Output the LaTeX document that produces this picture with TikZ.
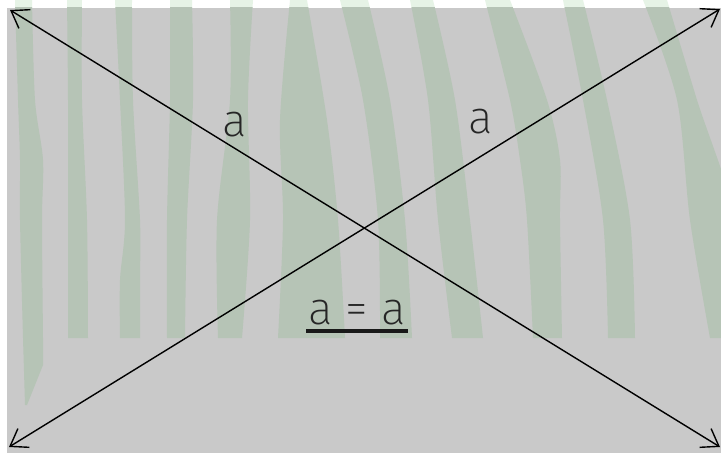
\documentclass[tikz,border=0pt]{standalone}
\usepackage{fontspec}
\setmainfont{Fira Sans}[UprightFont=* ExtraLight]
\usetikzlibrary{arrows.meta}
\definecolor{bggray}{HTML}{C9C9C9}
\definecolor{stripemid}{HTML}{B6C4B6}
\definecolor{stripepale}{HTML}{E6F3E6}
\newcommand\drawstripes[1]{%
  \fill[#1] plot[smooth] coordinates {(15,0)(18,100)(20,160)(20,220)(23,338)} -- (25,405) -- (27,405) -- (43,365) -- plot[smooth] coordinates {(43,338)(42,220)(43,160)(35,100)(32,0)} -- cycle;
  \fill[#1] plot[smooth] coordinates {(67,0)(68,100)(68,220)(68,338)} -- plot[smooth] coordinates {(88,338)(87,220)(82,100)(82,0)} -- cycle;
  \fill[#1] plot[smooth] coordinates {(115,0)(120,100)(125,220)(120,280)(120,338)} -- plot[smooth] coordinates {(140,338)(140,280)(140,220)(133,100)(132,0)} -- cycle;
  \fill[#1] plot[smooth] coordinates {(170,0)(170,100)(167,220)(167,338)} -- plot[smooth] coordinates {(185,338)(187,220)(193,100)(192,0)} -- cycle;
  \fill[#1] plot[smooth] coordinates {(230,0)(230,100)(217,220)(218,338)} -- plot[smooth] coordinates {(242,338)(250,220)(248,100)(253,0)} -- cycle;
  \fill[#1] plot[smooth] coordinates {(290,0)(280,120)(283,220)(278,338)} -- plot[smooth] coordinates {(345,338)(338,220)(327,120)(307,0)} -- cycle;
  \fill[#1] plot[smooth] coordinates {(340,0)(363,100)(378,220)(380,338)} -- plot[smooth] coordinates {(412,338)(405,220)(390,100)(368,0)} -- cycle;
  \fill[#1] plot[smooth] coordinates {(410,0)(428,100)(438,220)(452,338)} -- plot[smooth] coordinates {(483,338)(470,220)(455,100)(433,0)} -- cycle;
  \fill[#1] plot[smooth] coordinates {(485,0)(510,100)(520,160)(527,220)(533,338)} -- plot[smooth] coordinates {(562,338)(560,220)(560,160)(547,100)(510,0)} -- cycle;
  \fill[#1] plot[smooth] coordinates {(563,0)(583,100)(603,220)(608,338)} -- plot[smooth] coordinates {(635,338)(630,220)(607,100)(583,0)} -- cycle;
  \fill[#1] plot[smooth] coordinates {(643,0)(677,100)(690,220)(710,338)} -- plot[smooth] coordinates {(735,338)(735,220)(697,100)(667,0)} -- cycle;
}
\tikzset{
  dblarrow/.style={line width=1.4bp, black,
    {Straight Barb[length=16bp,width=22bp,line width=1.4bp]}-{Straight Barb[length=16bp,width=22bp,line width=1.4bp]}},
  lbl/.style={inner sep=0pt, anchor=base, text=black!85, font=\fontsize{46}{54}\selectfont},
  ulline/.style={line width=3.5bp, black!90}
}
\begin{document}
\begin{tikzpicture}[x=1bp,y=-1bp]
\useasboundingbox (0,0) rectangle (721,453);
\fill[white] (0,0) rectangle (721,453);
\begin{scope}
  \clip (0,0) rectangle (721,8);
  \drawstripes{stripepale}
\end{scope}
\fill[bggray] (7,8) rectangle (721,453);
\begin{scope}
  \clip (7,8) rectangle (721,453);
  \drawstripes{stripemid}
\end{scope}
\coordinate (tl) at (10,10);
\coordinate (tr) at (720,9);
\coordinate (bl) at (9,447);
\coordinate (br) at (720,447);
\draw[dblarrow] (tl) -- (br);
\draw[dblarrow] (bl) -- (tr);
\node[lbl] (la) at (235,137) {a};
\node[lbl] (ra) at (481,134) {a};
\node[lbl] (eq) at (357,325) {a = a};
\draw[ulline] ([yshift=-6bp,xshift=-2bp]eq.base west) -- ([yshift=-6bp,xshift=2bp]eq.base east);
\end{tikzpicture}
\end{document}
